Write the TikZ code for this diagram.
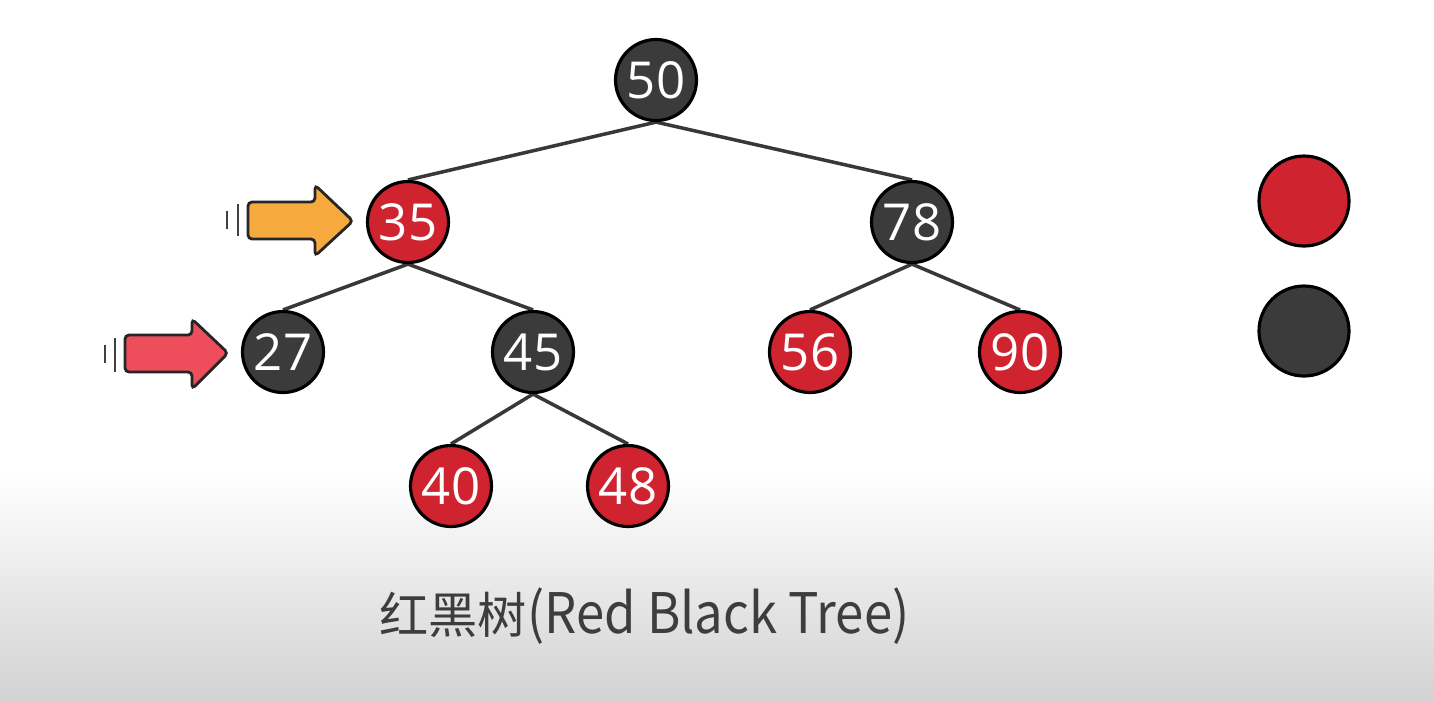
\documentclass[tikz,border=0pt]{standalone}
\usepackage{fontspec}
\setmainfont{Open Sans}
\newfontfamily\cjk{Noto Sans CJK SC}
\newfontfamily\titlefont[FakeStretch=0.91]{Noto Sans CJK SC}
\usetikzlibrary{backgrounds}
\definecolor{rbred}{HTML}{CF2330}
\definecolor{rbblack}{HTML}{3B3B3B}
\definecolor{edgegray}{HTML}{383838}
\definecolor{ptrorange}{HTML}{F6AA3E}
\definecolor{ptrred}{HTML}{EE4D5C}
\definecolor{titlegray}{HTML}{3D3D3D}
\tikzset{
  rbnode/.style={circle,draw=black,line width=0.9pt,minimum size=0.81cm,inner sep=0pt,
    text=white,font=\fontsize{14.5}{16}\selectfont},
  rn/.style={rbnode,fill=rbred},
  bn/.style={rbnode,fill=rbblack},
  legend/.style={circle,draw=black,line width=0.9pt,minimum size=0.9cm,inner sep=0pt},
  link/.style={draw=edgegray,line width=1pt},
  ptr/.style={draw=black!85,line width=0.8pt,rounded corners=0.04cm},
  whoosh/.style={draw=black!75,line width=0.8pt}
}
\begin{document}
\begin{tikzpicture}
            \useasboundingbox(0,0)rectangle(14.34,-7);
            \node[bn](50)at(6.56,-0.80){50};
            \node[rn](35)at(4.08,-2.22){35};
            \node[bn](78)at(9.12,-2.22){78};
            \node[bn](27)at(2.83,-3.52){27};
            \node[bn](45)at(5.33,-3.52){45};
            \node[rn](56)at(8.10,-3.52){56};
            \node[rn](90)at(10.20,-3.52){90};
            \node[rn](40)at(4.51,-4.86){40};
            \node[rn](48)at(6.28,-4.86){48};
            \node[legend,fill=rbred](red)at(13.04,-2.01){};
            \node[legend,fill=rbblack](black)at(13.04,-3.31){};
            \begin{scope}[on background layer]
            \fill[white](0,0)rectangle(14.34,-4.7);
            \shade[top color=white,bottom color=gray!35](0,-4.7)rectangle(14.34,-7);
            \draw[link](50.south)--(35.north);
            \draw[link](50.south)--(78.north);
            \draw[link](35.south)--(27.north);
            \draw[link](35.south)--(45.north);
            \draw[link](78.south)--(56.north);
            \draw[link](78.south)--(90.north);
            \draw[link](45.south)--(40.north);
            \draw[link](45.south)--(48.north);
            \end{scope}
            % pointers
            \draw[ptr,fill=ptrorange](2.48,-2.02)--(3.15,-2.02)--(3.15,-1.85)--(3.53,-2.21)
                --(3.15,-2.56)--(3.15,-2.39)--(2.48,-2.39)--cycle;
            \draw[whoosh](2.27,-2.11)--(2.27,-2.29);
            \draw[whoosh](2.38,-2.04)--(2.38,-2.36);
            \draw[ptr,fill=ptrred](1.25,-3.35)--(1.92,-3.35)--(1.92,-3.19)--(2.28,-3.53)
                --(1.92,-3.89)--(1.92,-3.72)--(1.25,-3.72)--cycle;
            \draw[whoosh](1.05,-3.45)--(1.05,-3.63);
            \draw[whoosh](1.15,-3.38)--(1.15,-3.72);
            \node[anchor=base,text=titlegray,font=\titlefont\fontsize{15.9}{18}\selectfont](title)
                at(6.445,-6.33){{\cjk\fontsize{14}{18}\selectfont 红黑树}(Red Black Tree)};
\end{tikzpicture}
\end{document}
